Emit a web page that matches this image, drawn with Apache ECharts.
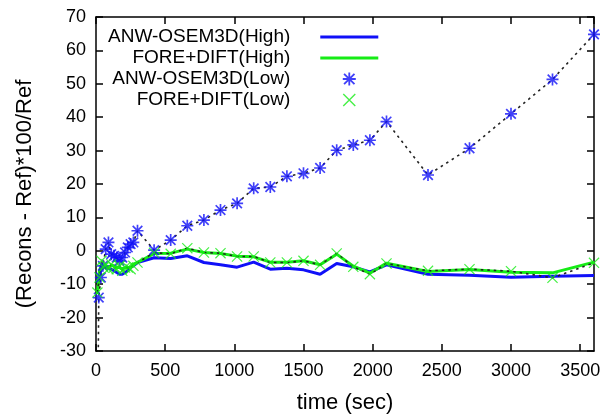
<!DOCTYPE html>
<html><head><meta charset="utf-8">
<script src="https://cdn.jsdelivr.net/npm/echarts@6/dist/echarts.min.js"></script>
<style>html,body{margin:0;padding:0;background:#fff}#c{width:603px;height:416px}</style>
</head><body><div id="c"></div>
<script>
// ---- data ----
const frameTimes = [10, 25, 40, 55, 70, 90, 110, 130, 150, 170, 190, 210, 230, 250, 270, 300,
  420, 540, 660, 780, 900, 1020, 1140, 1260, 1380, 1500, 1620, 1740, 1860, 1980, 2100, 2400, 2700, 3000, 3300, 3600];
const anwHighValues = [-9, -7, -5.5, -5, -5, -5.2, -5.5, -6, -6.5, -7, -7, -6.5, -6, -5, -4.5, -3.5,
  -2.1, -2.3, -1.5, -3.5, -4.2, -4.9, -3.4, -5.5, -5.2, -5.7, -7.0, -3.8, -4.8, -6.3, -4.2, -7.0, -7.3, -7.9, -7.6, -7.4];
const foreHighValues = [-13, -6, -4, -5, -4.5, -5, -4.5, -4.5, -5, -5, -5.5, -5, -5, -5, -4, -3.5,
  -0.8, -0.7, 0.5, -0.5, -0.8, -1.6, -1.8, -3.4, -3.4, -3.0, -4.2, -1.0, -4.6, -6.7, -3.7, -6.2, -5.6, -6.4, -6.6, -3.4];
const foreLowValues = [-12.5, -8, -3, -5, -4, -5.5, -4, -5, -5.5, -4.5, -6, -5, -5, -5.5, -4.5, -3.5,
  -0.6, -0.9, 0.8, -0.5, -0.7, -1.7, -1.7, -3.5, -3.5, -3.0, -4.2, -0.8, -4.8, -7.0, -3.8, -6.0, -5.5, -6.1, -8.1, -3.6];
const anwLowTimes = [10, 20, 35, 50, 70, 90, 110, 130, 150, 170, 190, 210, 230, 250, 270, 300,
  420, 540, 660, 780, 900, 1020, 1140, 1260, 1380, 1500, 1620, 1740, 1860, 1980, 2100, 2400, 2700, 3000, 3300, 3600];
const anwLowValues = [-60, -14, -8, -4.5, 0.5, 2.5, -1, -1.5, -2, -3, -2, -0.5, 1, 2, 2.5, 6,
  0.2, 3.2, 7.5, 9.2, 12.2, 14.2, 18.7, 19.1, 22.3, 23.2, 24.8, 30.1, 31.7, 33.1, 38.7, 22.7, 30.7, 41.0, 51.3, 64.8];
const seriesNames = ['ANW-OSEM3D(High)', 'FORE+DIFT(High)', 'ANW-OSEM3D(Low)', 'FORE+DIFT(Low)'];
const xTicks = { min: 0, max: 3600, step: 500 };
const yTicks = { min: -30, max: 70, step: 10 };
const xTitle = 'time (sec)';
const yTitle = '(Recons - Ref)*100/Ref';

// ---- build ----
const zip = (ts, vs) => ts.map((t, i) => [t, vs[i]]);
const BLUE = '#1010f8', GREEN = '#16ec16', FONT = 'Liberation Sans, Arial, Helvetica, sans-serif';
const STAR = 'path://M8.6,0L11.4,0L11.4,20L8.6,20Z M0,8.6L20,8.6L20,11.4L0,11.4Z M1,3L3,1L19,17L17,19Z M17,1L19,3L3,19L1,17Z';
const CROSS = 'path://M0,1.5L1.5,0L20,18.5L18.5,20Z M18.5,0L20,1.5L1.5,20L0,18.5Z';
const BAR = 'path://M0,0L58,0L58,3L0,3Z';

const axisCommon = {
  axisLine: { show: true, onZero: false, lineStyle: { color: '#000', width: 1.5 } },
  axisTick: { show: true, inside: true, length: 7, lineStyle: { color: '#000', width: 1.5 } },
  splitLine: { show: false }
};
const chart = echarts.init(document.getElementById('c'));
chart.setOption({
  animation: false,
  backgroundColor: '#fff',
  grid: { left: 96, right: 9, top: 17, bottom: 65, containLabel: false, outerBoundsMode: 'none' },
  legend: {
    data: seriesNames.map((n, i) => ({ name: n, icon: i < 2 ? BAR : (i === 2 ? STAR : CROSS) })),
    orient: 'vertical', align: 'right', left: 108, top: 27, padding: 0,
    itemWidth: 58, itemHeight: 13, itemGap: 1, symbolKeepAspect: true,
    textStyle: { fontFamily: FONT, fontSize: 19, color: '#000', lineHeight: 20, padding: [0, 25, 0, 0] }
  },
  xAxis: [
    Object.assign({ type: 'value', position: 'bottom', min: xTicks.min, max: xTicks.max, interval: xTicks.step,
      name: xTitle, nameLocation: 'middle', nameGap: 41,
      nameTextStyle: { fontFamily: FONT, fontSize: 22, color: '#000' },
      axisLabel: { fontFamily: FONT, fontSize: 18, color: '#000', margin: 11, showMaxLabel: false,
        formatter: v => String(v) } }, axisCommon),
    Object.assign({ type: 'value', position: 'top', min: xTicks.min, max: xTicks.max, interval: xTicks.step,
      axisLabel: { show: false } }, axisCommon)
  ],
  yAxis: [
    Object.assign({ type: 'value', position: 'left', min: yTicks.min, max: yTicks.max, interval: yTicks.step,
      name: yTitle, nameLocation: 'middle', nameGap: 60,
      nameTextStyle: { fontFamily: FONT, fontSize: 22, color: '#000', padding: [0, 20, 0, 0] },
      axisLabel: { fontFamily: FONT, fontSize: 18, color: '#000', margin: 10, formatter: v => String(v) } }, axisCommon),
    Object.assign({ type: 'value', position: 'right', min: yTicks.min, max: yTicks.max, interval: yTicks.step,
      axisLabel: { show: false } }, axisCommon)
  ],
  series: [
    { name: seriesNames[0], type: 'line', data: zip(frameTimes, anwHighValues), symbol: 'none',
      lineStyle: { color: BLUE, width: 3 }, itemStyle: { color: BLUE }, z: 2 },
    { name: seriesNames[1], type: 'line', data: zip(frameTimes, foreHighValues), symbol: 'none',
      lineStyle: { color: GREEN, width: 3 }, itemStyle: { color: GREEN }, z: 3 },
    { name: 'anwLowGuide', type: 'line', data: zip(anwLowTimes, anwLowValues), symbol: 'none', clip: true,
      lineStyle: { color: '#222', width: 1.6, type: [2.5, 4] }, z: 4 },
    { name: 'foreLowGuide', type: 'line', data: zip(frameTimes, foreLowValues), symbol: 'none', clip: true,
      lineStyle: { color: '#222', width: 1.6, type: [2.5, 4] }, z: 4 },
    { name: seriesNames[2], type: 'scatter', data: zip(anwLowTimes, anwLowValues), symbol: STAR, symbolSize: 12,
      clip: true, itemStyle: { color: BLUE }, z: 5 },
    { name: seriesNames[3], type: 'scatter', data: zip(frameTimes, foreLowValues), symbol: CROSS, symbolSize: 11,
      clip: true, itemStyle: { color: GREEN }, z: 6 }
  ]
});
</script></body></html>
